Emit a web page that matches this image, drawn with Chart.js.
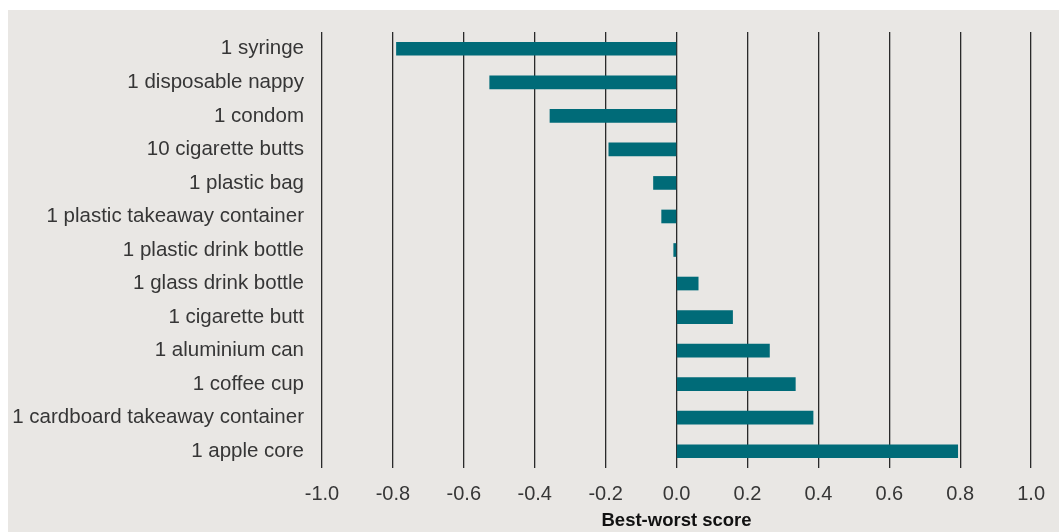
<!DOCTYPE html>
<html>
<head>
<meta charset="utf-8">
<script src="https://cdn.jsdelivr.net/npm/chart.js@4/dist/chart.umd.min.js"></script>
<style>
  html, body { margin: 0; padding: 0; background: #ffffff; }
  .frame {
    position: absolute; left: 8px; top: 10px;
    width: 1051px; height: 522px;
    background: #e9e7e4;
  }
</style>
</head>
<body>
<div class="frame"><canvas id="scoreChart" width="1051" height="522"></canvas></div>
<script>
const items = [
  "1 syringe", "1 disposable nappy", "1 condom", "10 cigarette butts",
  "1 plastic bag", "1 plastic takeaway container", "1 plastic drink bottle",
  "1 glass drink bottle", "1 cigarette butt", "1 aluminium can",
  "1 coffee cup", "1 cardboard takeaway container", "1 apple core"
];
const scores = [
  -0.790, -0.527, -0.357, -0.191,
  -0.065, -0.042, -0.008,
  0.061, 0.158, 0.262,
  0.335, 0.385, 0.793
];
const xTicks = [-1.0, -0.8, -0.6, -0.4, -0.2, 0.0, 0.2, 0.4, 0.6, 0.8, 1.0];

const ctx = document.getElementById("scoreChart").getContext("2d");

new Chart(ctx, {
  type: "bar",
  data: {
    labels: items,
    datasets: [{
      data: scores,
      backgroundColor: "#006b78",
      borderWidth: 0,
      barThickness: 13
    }]
  },
  options: {
    indexAxis: "y",
    responsive: false,
    animation: false,
    layout: { padding: { top: 22, right: 27, bottom: 0, left: 0 } },
    plugins: { legend: { display: false }, tooltip: { enabled: false } },
    scales: {
      x: {
        min: -1, max: 1,
        afterBuildTicks: scale => { scale.ticks = xTicks.map(v => ({ value: v })); },
        afterFit: scale => { scale.height = 64; },
        grid: { color: "#2a2a2a", lineWidth: 1.3, drawTicks: false },
        border: { display: false },
        ticks: {
          padding: 14,
          color: "#363636",
          font: { family: "Liberation Sans", size: 20 },
          callback: v => v.toFixed(1)
        },
        title: {
          display: true,
          text: "Best-worst score",
          color: "#111111",
          font: { family: "Liberation Sans", size: 18.5, weight: "bold" },
          padding: { top: 0, bottom: 0 }
        }
      },
      y: {
        afterFit: scale => {
          scale.width = 314;
          // labels sit inside their bands, no extra room needed above/below
          scale.paddingTop = 0;
          scale.paddingBottom = 0;
        },
        grid: { display: false, drawTicks: false },
        border: { display: false },
        ticks: {
          padding: 18,
          color: "#363636",
          font: { family: "Liberation Sans", size: 20.5 }
        }
      }
    }
  }
});
</script>
</body>
</html>
